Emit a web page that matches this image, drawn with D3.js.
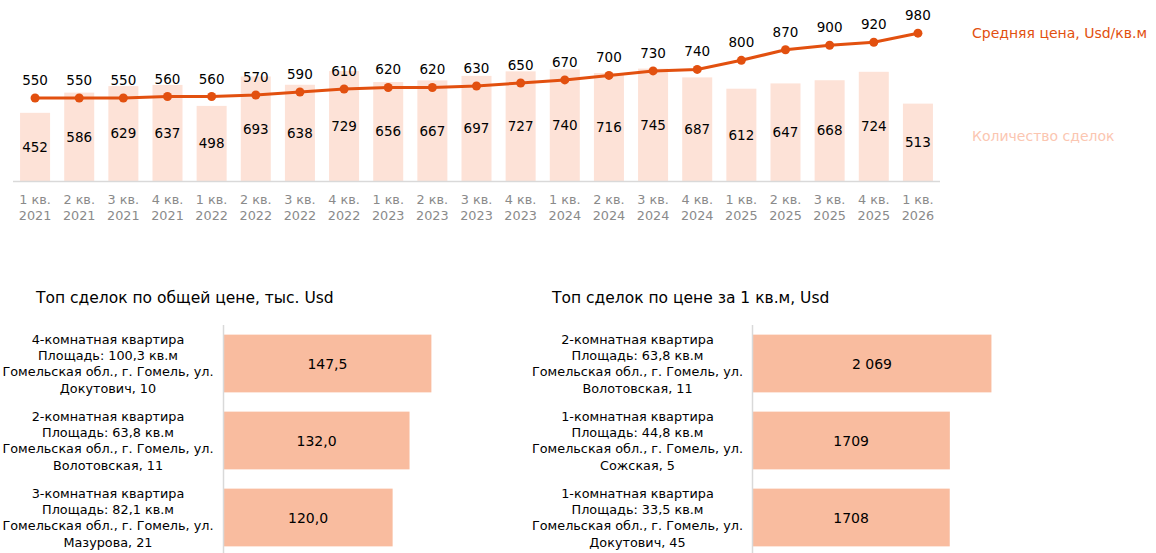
<!DOCTYPE html>
<html lang="ru">
<head>
<meta charset="UTF-8">
<title>Сделки</title>
<script src="https://d3js.org/d3.v7.min.js"></script>
<style>
  body, html { margin: 0; padding: 0; background: #fff; overflow: hidden; }
  svg { display: block; font-family: "DejaVu Sans", sans-serif; }
</style>
</head>
<body>
<svg></svg>
<script>
    const quarters = ["1 кв.|2021","2 кв.|2021","3 кв.|2021","4 кв.|2021","1 кв.|2022","2 кв.|2022","3 кв.|2022","4 кв.|2022",
      "1 кв.|2023","2 кв.|2023","3 кв.|2023","4 кв.|2023","1 кв.|2024","2 кв.|2024","3 кв.|2024","4 кв.|2024",
      "1 кв.|2025","2 кв.|2025","3 кв.|2025","4 кв.|2025","1 кв.|2026"];
    const dealCount = [452,586,629,637,498,693,638,729,656,667,697,727,740,716,745,687,612,647,668,724,513];
    const avgPrice = [550,550,550,560,560,570,590,610,620,620,630,650,670,700,730,740,800,870,900,920,980];

    const totalLabels = [
      ["4-комнатная квартира","Площадь: 100,3 кв.м","Гомельская обл., г. Гомель, ул.","Докутович, 10"],
      ["2-комнатная квартира","Площадь: 63,8 кв.м","Гомельская обл., г. Гомель, ул.","Волотовская, 11"],
      ["3-комнатная квартира","Площадь: 82,1 кв.м","Гомельская обл., г. Гомель, ул.","Мазурова, 21"]
    ];
    const totalValues = [147.5, 132.0, 120.0];

    const sqmLabels = [
      ["2-комнатная квартира","Площадь: 63,8 кв.м","Гомельская обл., г. Гомель, ул.","Волотовская, 11"],
      ["1-комнатная квартира","Площадь: 44,8 кв.м","Гомельская обл., г. Гомель, ул.","Сожская, 5"],
      ["1-комнатная квартира","Площадь: 33,5 кв.м","Гомельская обл., г. Гомель, ул.","Докутович, 45"]
    ];
    const sqmValues = [2069, 1709, 1708];
    const sqmShown = ["2 069", "1709", "1708"];

    const width = 1156, height = 553;
    const orange = "#e2500f", peach = "#fde2d7", salmon = "#f9bc9f";

    const svg = d3.select("svg").attr("width", width).attr("height", height);

    // --- top chart: bars + line
    const x = d3.scaleBand().domain(quarters).range([13, 940]).paddingInner(0.32).paddingOuter(0.16);
    const y = d3.scaleLinear().domain([0, 1200]).range([181, 0]);

    svg.append("g").selectAll("rect")
      .data(dealCount)
      .enter().append("rect")
        .attr("x", (d, i) => x(quarters[i]))
        .attr("y", d => y(d))
        .attr("width", x.bandwidth())
        .attr("height", d => y(0) - y(d))
        .attr("fill", peach);

    svg.append("line")
      .attr("x1", 13).attr("x2", 940)
      .attr("y1", y(0) + 0.5).attr("y2", y(0) + 0.5)
      .attr("stroke", "#d9d9d9").attr("stroke-width", 1.5);

    svg.append("g").selectAll("text")
      .data(dealCount)
      .enter().append("text")
        .attr("x", (d, i) => x(quarters[i]) + x.bandwidth() / 2)
        .attr("y", d => (y(d) + y(0)) / 2)
        .attr("dy", "0.36em")
        .attr("text-anchor", "middle")
        .attr("font-size", 13.5)
        .attr("fill", "#000")
        .text(d => d);

    const cx = i => x(quarters[i]) + x.bandwidth() / 2;
    const line = d3.line().x((d, i) => cx(i)).y(d => y(d));
    svg.append("path")
      .datum(avgPrice)
      .attr("d", line)
      .attr("fill", "none")
      .attr("stroke", orange)
      .attr("stroke-width", 3);

    svg.append("g").selectAll("circle")
      .data(avgPrice)
      .enter().append("circle")
        .attr("cx", (d, i) => cx(i))
        .attr("cy", d => y(d))
        .attr("r", 4.5)
        .attr("fill", orange);

    svg.append("g").selectAll("text")
      .data(avgPrice)
      .enter().append("text")
        .attr("x", (d, i) => cx(i))
        .attr("y", d => y(d) - 13)
        .attr("text-anchor", "middle")
        .attr("font-size", 13.5)
        .attr("fill", "#000")
        .text(d => d);

    // category axis labels, two rows
    const tickRows = [204, 219.7];
    tickRows.forEach((ty, k) => {
      svg.append("g").selectAll("text")
        .data(quarters)
        .enter().append("text")
          .attr("x", d => x(d) + x.bandwidth() / 2)
          .attr("y", ty)
          .attr("text-anchor", "middle")
          .attr("font-size", 12.8)
          .attr("fill", "#8a8a8a")
          .text(d => d.split("|")[k]);
    });

    // legend
    svg.append("text").attr("x", 972).attr("y", 38).attr("font-size", 14)
      .attr("fill", orange).text("Средняя цена, Usd/кв.м");
    svg.append("text").attr("x", 972).attr("y", 141).attr("font-size", 14)
      .attr("fill", "#fbc6b1").text("Количество сделок");

    // --- bottom charts
    function topChart(opts) {
      const g = svg.append("g");
      const yb = d3.scaleBand().domain(d3.range(opts.values.length))
        .range([325, 556]).paddingInner(0.25).paddingOuter(0.125);
      const xb = d3.scaleLinear().domain(opts.domain).range([opts.x0, opts.x1]);

      g.append("text").attr("x", opts.titleX).attr("y", 303)
        .attr("font-size", 15.5).attr("fill", "#000").text(opts.title);

      g.selectAll("rect")
        .data(opts.values)
        .enter().append("rect")
          .attr("x", xb(0))
          .attr("y", (d, i) => yb(i))
          .attr("width", d => xb(d) - xb(0))
          .attr("height", yb.bandwidth())
          .attr("fill", salmon);

      g.append("line")
        .attr("x1", xb(0)).attr("x2", xb(0))
        .attr("y1", 325).attr("y2", 553)
        .attr("stroke", "#d9d9d9").attr("stroke-width", 1.5);

      g.selectAll("text.val")
        .data(opts.values)
        .enter().append("text")
          .attr("class", "val")
          .attr("x", d => (xb(0) + xb(d)) / 2)
          .attr("y", (d, i) => yb(i) + yb.bandwidth() / 2)
          .attr("dy", "0.36em")
          .attr("text-anchor", "middle")
          .attr("font-size", 14)
          .attr("fill", "#000")
          .text((d, i) => opts.format(d, i));

      g.selectAll("text.cat")
        .data(opts.labels)
        .enter().append("text")
          .attr("class", "cat")
          .attr("text-anchor", "middle")
          .attr("font-size", 12.8)
          .attr("fill", "#000")
          .each(function(lines, i) {
            const mid = yb(i) + yb.bandwidth() / 2;
            lines.forEach((s, k) => {
              d3.select(this).append("tspan")
                .attr("x", opts.labelX)
                .attr("y", mid + (k - 1.5) * 16.3)
                .attr("dy", "0.36em")
                .text(s);
            });
          });
    }

    topChart({
      title: "Топ сделок по общей цене, тыс. Usd", titleX: 36,
      values: totalValues, labels: totalLabels,
      domain: [0, 160], x0: 223.5, x1: 449, labelX: 108,
      format: d => d3.format(".1f")(d).replace(".", ",")
    });

    topChart({
      title: "Топ сделок по цене за 1 кв.м, Usd", titleX: 552,
      values: sqmValues, labels: sqmLabels,
      domain: [0, 2500], x0: 752.5, x1: 1041.2, labelX: 637.5,
      format: (d, i) => sqmShown[i]
    });
</script>
</body>
</html>
